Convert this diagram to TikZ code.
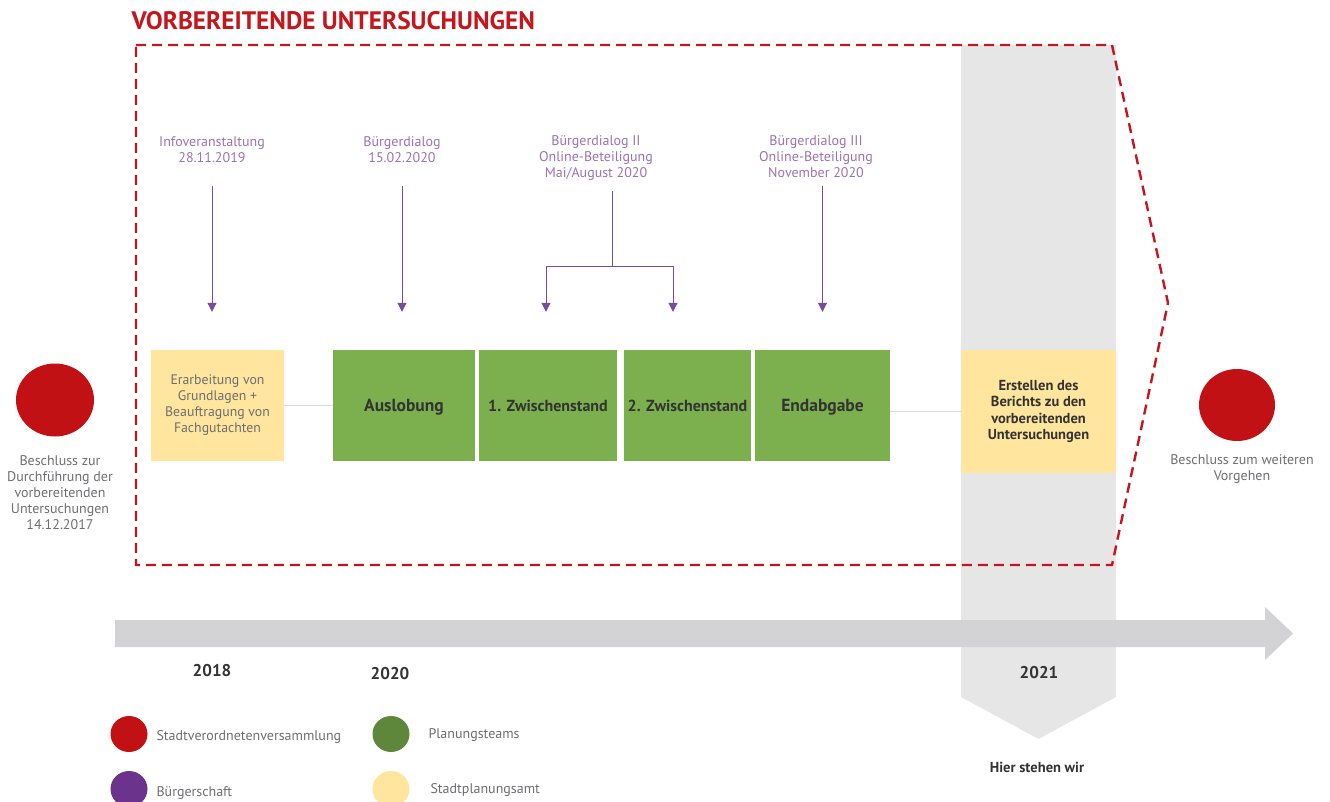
\documentclass[tikz,border=0pt]{standalone}
\usepackage{fontspec}
\setmainfont{PT Sans}
\usetikzlibrary{arrows.meta,shapes.geometric}

\definecolor{vured}{HTML}{C4161C}
\definecolor{kreisrot}{HTML}{C11114}
\definecolor{lila}{HTML}{6B338B}
\definecolor{lilatext}{HTML}{9B72B0}
\definecolor{lilalinie}{HTML}{7A4A9C}
\definecolor{gruen}{HTML}{7CB04E}
\definecolor{dunkelgruen}{HTML}{5F873C}
\definecolor{gelb}{HTML}{FFE59E}
\definecolor{saeule}{HTML}{E6E6E6}
\definecolor{zeitpfeil}{HTML}{D3D2D5}
\definecolor{grautext}{HTML}{6D6E71}
\definecolor{dunkeltext}{HTML}{333333}

\tikzset{
  kasten/.style={minimum height=111pt, inner sep=2pt, align=center},
  gruenkasten/.style={kasten, fill=gruen, text=dunkeltext, text height=12pt, text depth=0pt, font=\fontsize{17.5}{20}\selectfont\bfseries},
  infotext/.style={text=lilatext, align=center, font=\fontsize{14}{16}\selectfont},
  grautxt/.style={text=grautext, align=center, font=\fontsize{14}{16}\selectfont},
  jahr/.style={text=dunkeltext, font=\fontsize{17}{20}\selectfont\bfseries},
  parr/.style={draw=lilalinie, line width=1pt, -{Triangle[width=9pt,length=9pt]}},
  pline/.style={draw=lilalinie, line width=1pt},
  verbinder/.style={draw=black!15, line width=0.8pt},
  punkt/.style={ellipse, minimum width=37pt, minimum height=36pt, inner sep=0pt}
}

\begin{document}
\begin{tikzpicture}[x=1pt,y=-1pt]
\useasboundingbox (0,0) rectangle (1330,802);
\clip (0,0) rectangle (1330,802);

%Grey column "Hier stehen wir"
\fill[saeule] (961,45) -- (1116,45) -- (1116,697) -- (1038.5,739) -- (961,697) -- cycle;

%Dashed frame of the preparatory studies
\draw[vured, line width=2.4pt, dash pattern=on 10pt off 6pt]
  (136,45) -- (1112,45) -- (1168,303) -- (1112,565) -- (136,565) -- cycle;
\node[anchor=base west, text=vured, font=\fontsize{25.3}{28}\selectfont\bfseries] (titel) at (128,30) {VORBEREITENDE UNTERSUCHUNGEN};

%Time line
\fill[zeitpfeil] (115,620) -- (1265,620) -- (1265,607) -- (1293,633.5) -- (1265,660) -- (1265,647) -- (115,647) -- cycle;
\node[jahr] (j2018) at (212,671) {2018};
\node[jahr] (j2020) at (390,674) {2020};
\node[jahr] (j2021) at (1039,673) {2021};
\node[text=dunkeltext, font=\fontsize{14.5}{16}\selectfont\bfseries] (hier) at (1037,767) {Hier stehen wir};

%Boxes
\node[kasten, fill=gelb, text=grautext, minimum width=133pt, font=\fontsize{13.8}{16}\selectfont] (grund) at (217.5,405.5)
  {Erarbeitung von\\Grundlagen +\\Beauftragung von\\Fachgutachten};
\node[gruenkasten, minimum width=142pt] (ausl) at (404,405.5) {Auslobung};
\node[gruenkasten, minimum width=138pt, font=\fontsize{16}{18}\selectfont\bfseries] (zw1) at (548,405.5) {1. Zwischenstand};
\node[gruenkasten, minimum width=127pt, font=\fontsize{16}{18}\selectfont\bfseries] (zw2) at (687.5,405.5) {2. Zwischenstand};
\node[gruenkasten, minimum width=135pt] (endab) at (822.5,405.5) {Endabgabe};
\node[kasten, fill=gelb, text=dunkeltext, minimum width=155pt, minimum height=123pt, font=\fontsize{14.5}{16.3}\selectfont\bfseries] (bericht) at (1038.5,411.5)
  {Erstellen des\\Berichts zu den\\vorbereitenden\\Untersuchungen};

\draw[verbinder] (grund) -- (ausl);
\draw[verbinder] (endab.east |- bericht.west) -- (bericht.west);

%Decisions
\node[ellipse, fill=kreisrot, minimum width=78pt, minimum height=73pt] (start) at (55,400) {};
\node[grautxt] (starttext) at (60,493) {Beschluss zur\\Durchführung der\\vorbereitenden\\Untersuchungen\\14.12.2017};
\node[ellipse, fill=kreisrot, minimum width=76pt, minimum height=72pt] (ende) at (1237,405) {};
\node[grautxt] (endetext) at (1242,469) {Beschluss zum weiteren\\Vorgehen};

%Participation
\node[infotext] (info) at (212,150) {Infoveranstaltung\\28.11.2019};
\node[infotext] (dialog) at (402,150) {Bürgerdialog\\15.02.2020};
\node[infotext] (dialogII) at (596,158) {Bürgerdialog II\\Online-Beteiligung\\Mai/August 2020};
\node[infotext] (dialogIII) at (816,157) {Bürgerdialog III\\Online-Beteiligung\\November 2020};

\draw[parr, shorten >=38pt] ([yshift=-36pt]info.center) -- (info.center |- grund.north);
\draw[parr, shorten >=38pt] ([yshift=-36pt]dialog.center) -- (dialog.center |- ausl.north);
\coordinate (gabel) at (612.5,267);
\draw[pline] ([yshift=-33pt]dialogII.center -| gabel) -- (gabel);
\draw[parr, shorten >=38pt] (gabel) -| ([xshift=-2pt]zw1.north);
\draw[parr, shorten >=38pt] (gabel) -| ([xshift=-14.5pt]zw2.north);
\draw[parr, shorten >=38pt] ([yshift=-29pt]dialogIII.center -| endab.north) -- (endab.north);

%Legend
\node[punkt, fill=kreisrot] (lrot) at (129,734) {};
\node[punkt, fill=lila] (llila) at (129,789) {};
\node[punkt, fill=dunkelgruen] (lgruen) at (391,734) {};
\node[punkt, fill=gelb] (lgelb) at (391,789) {};
\node[grautxt, anchor=west] at (153,737) {Stadtverordnetenversammlung};
\node[grautxt, anchor=west] at (153,793) {Bürgerschaft};
\node[grautxt, anchor=west] at (425,735) {Planungsteams};
\node[grautxt, anchor=west] at (427,790) {Stadtplanungsamt};
\end{tikzpicture}
\end{document}
